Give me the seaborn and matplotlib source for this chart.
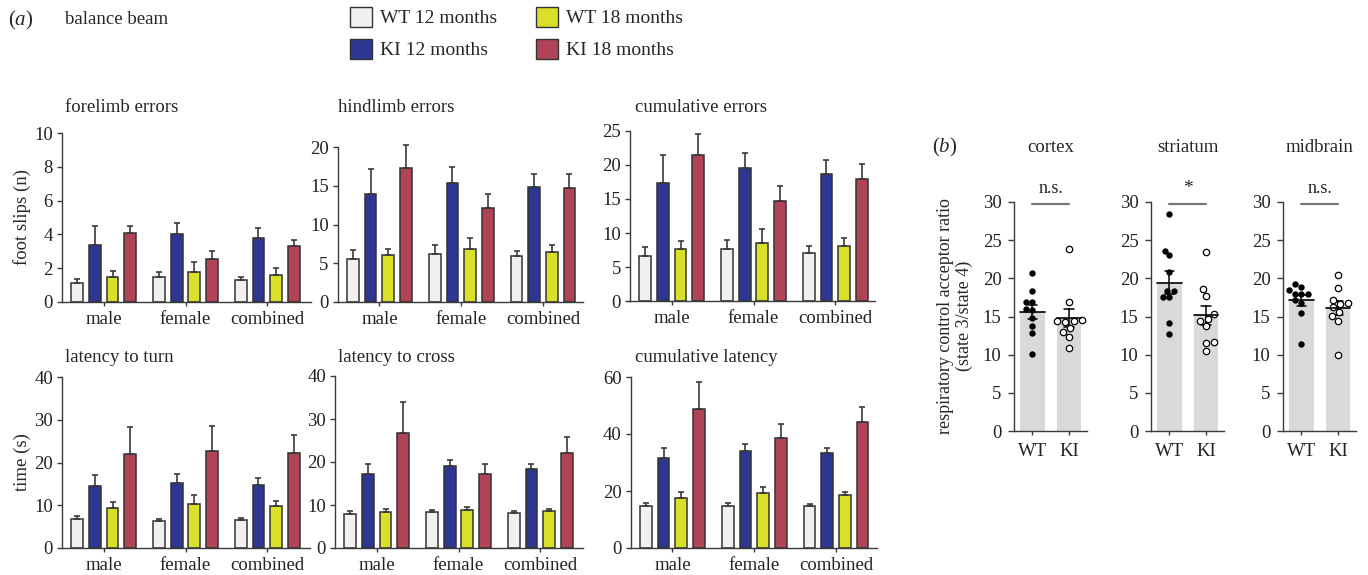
import numpy as np
import pandas as pd
import matplotlib
matplotlib.use("Agg")
import matplotlib.pyplot as plt
import seaborn as sns
from matplotlib.patches import Patch
from matplotlib.container import BarContainer

# ---------------- data ----------------
groups = ["male", "female", "combined"]
conditions = ["WT 12 months", "KI 12 months", "WT 18 months", "KI 18 months"]
cond_colors = ["#f0f0f0", "#2d3690", "#d8e027", "#b04456"]

# rows: conditions, cols: groups (male, female, combined)
forelimb_mean = [[1.1, 1.45, 1.3], [3.4, 4.05, 3.8], [1.45, 1.8, 1.6], [4.1, 2.55, 3.3]]
forelimb_sem = [[0.25, 0.3, 0.2], [1.1, 0.65, 0.6], [0.4, 0.55, 0.4], [0.4, 0.45, 0.35]]

hindlimb_mean = [[5.5, 6.2, 5.9], [14.0, 15.4, 14.9], [6.1, 6.8, 6.5], [17.3, 12.1, 14.7]]
hindlimb_sem = [[1.2, 1.1, 0.7], [3.1, 2.0, 1.6], [0.8, 1.5, 0.8], [3.0, 1.9, 1.8]]

cumerr_mean = [[6.6, 7.7, 7.1], [17.4, 19.5, 18.7], [7.6, 8.6, 8.1], [21.4, 14.7, 18.0]]
cumerr_sem = [[1.4, 1.3, 1.0], [4.1, 2.3, 2.1], [1.2, 2.0, 1.2], [3.1, 2.2, 2.1]]

turn_mean = [[6.8, 6.4, 6.6], [14.4, 15.2, 14.8], [9.3, 10.4, 9.9], [22.1, 22.6, 22.3]]
turn_sem = [[0.7, 0.5, 0.4], [2.6, 2.0, 1.6], [1.5, 2.1, 1.2], [6.2, 5.9, 4.2]]

cross_mean = [[8.0, 8.3, 8.1], [17.2, 19.0, 18.4], [8.3, 8.8, 8.5], [26.8, 17.3, 22.0]]
cross_sem = [[0.5, 0.6, 0.4], [2.3, 1.4, 1.2], [0.7, 0.8, 0.5], [7.2, 2.2, 3.8]]

cumlat_mean = [[14.8, 14.7, 14.8], [31.7, 34.2, 33.3], [17.6, 19.3, 18.5], [48.9, 38.6, 44.1]]
cumlat_sem = [[1.0, 1.0, 0.7], [3.3, 2.3, 1.9], [1.9, 2.1, 1.3], [9.3, 5.0, 5.4]]

genotypes = ["WT", "KI"]
cortex_wt = [20.7, 18.3, 16.9, 16.9, 16.0, 15.8, 14.8, 13.7, 12.8, 10.1]
cortex_ki = [23.8, 16.9, 14.5, 14.4, 14.4, 14.3, 13.5, 13.0, 12.3, 10.9]
striatum_wt = [28.4, 23.6, 23.0, 20.8, 18.4, 18.3, 17.6, 17.5, 14.2, 12.7]
striatum_ki = [23.5, 18.6, 17.7, 15.3, 14.7, 14.4, 13.7, 11.6, 11.5, 10.5]
midbrain_wt = [19.3, 18.9, 18.45, 18.0, 18.0, 18.0, 17.1, 16.8, 15.4, 11.4]
midbrain_ki = [20.5, 18.7, 17.2, 16.8, 16.7, 16.2, 15.6, 15.1, 14.4, 9.9]

# ---------------- style ----------------
sns.set_style("ticks")
plt.rcParams["font.family"] = ["Liberation Serif", "DejaVu Serif"]
plt.rcParams["mathtext.fontset"] = "custom"
plt.rcParams["mathtext.rm"] = "Liberation Serif"
plt.rcParams["mathtext.it"] = "Liberation Serif:italic"
FS = 13.5
SPINE = "#3a3a3a"

W, H = 1368, 575
fig = plt.figure(figsize=(W / 100, H / 100), dpi=100)


def rect(x0, y0, x1, y1):
    return [x0 / W, 1 - y1 / H, (x1 - x0) / W, (y1 - y0) / H]


def ftext(x, y, s, **kw):
    kw.setdefault("fontsize", FS)
    kw.setdefault("va", "center")
    fig.text(x / W, 1 - y / H, s, **kw)


def style_axes(ax):
    sns.despine(ax=ax)
    for s in ("left", "bottom"):
        ax.spines[s].set_color(SPINE)
        ax.spines[s].set_linewidth(1.0)
    ax.tick_params(axis="both", colors=SPINE, labelcolor="#222222", labelsize=FS,
                   width=1.0)
    ax.set_xlabel("")
    ax.set_ylabel("")


PX_PER_GROUP = 81.8


def bar_panel(box, mean, sem, ymax, ystep, title, title_xy):
    ax = fig.add_axes(rect(*box))
    df = pd.DataFrame([
        {"group": g, "condition": c, "value": mean[i][j]}
        for i, c in enumerate(conditions) for j, g in enumerate(groups)
    ])
    sns.barplot(data=df, x="group", y="value", hue="condition", order=groups,
                hue_order=conditions, palette=dict(zip(conditions, cond_colors)),
                saturation=1, width=0.863, gap=0.335, errorbar=None,
                edgecolor="#333333", linewidth=1.1, legend=False, ax=ax)
    bar_containers = [c for c in ax.containers if isinstance(c, BarContainer)]
    for i, cont in enumerate(bar_containers):
        bars = sorted(cont.patches, key=lambda p: p.get_x())
        xs = [b.get_x() + b.get_width() / 2 for b in bars]
        hs = [b.get_height() for b in bars]
        ax.errorbar(xs, hs, yerr=[np.zeros(len(hs)), sem[i]], fmt="none",
                    ecolor="#3a3a3a", elinewidth=1.2, capsize=2.0, capthick=1.2,
                    clip_on=False, zorder=1)
    width_px = box[2] - box[0]
    ax.set_xlim(-0.51, -0.51 + width_px / PX_PER_GROUP)
    ax.set_ylim(0, ymax)
    ax.set_yticks(np.arange(0, ymax + 0.001, ystep))
    style_axes(ax)
    ax.tick_params(axis="y", length=3.5, pad=3)
    ax.tick_params(axis="x", length=3, pad=3.5)
    ftext(title_xy[0], title_xy[1], title, ha="left")
    return ax


bar_panel((62, 133, 311, 302), forelimb_mean, forelimb_sem, 10, 2,
          "forelimb errors", (65, 108))
bar_panel((337.7, 147, 583, 302), hindlimb_mean, hindlimb_sem, 20, 5,
          "hindlimb errors", (338, 107))
bar_panel((630, 131, 875, 301), cumerr_mean, cumerr_sem, 25, 5,
          "cumulative errors", (635, 107))
bar_panel((62, 377, 310, 548), turn_mean, turn_sem, 40, 10,
          "latency to turn", (65, 358))
bar_panel((335, 376, 583, 548), cross_mean, cross_sem, 40, 10,
          "latency to cross", (338, 358))
bar_panel((630.7, 377, 877, 548), cumlat_mean, cumlat_sem, 60, 20,
          "cumulative latency", (635, 358))

ftext(22, 217, "foot slips (n)", rotation=90, ha="center")
ftext(22, 462, "time (s)", rotation=90, ha="center")

ftext(8, 20, r"$(a)$", ha="left", fontsize=15)
ftext(65, 19, "balance beam", ha="left")

handles = [Patch(facecolor=c, edgecolor="#333333", linewidth=1.0) for c in cond_colors]
fig.legend(handles, conditions, loc="upper left",
           bbox_to_anchor=(350 / W, 1 - 7 / H), ncol=2, frameon=False,
           fontsize=14, handlelength=1.13, handleheight=1.19, handletextpad=0.42,
           labelspacing=0.58, columnspacing=2.0, borderpad=0, borderaxespad=0)


# ---------------- panel b ----------------
def resp_panel(left, wt, ki, title, sig):
    ax = fig.add_axes(rect(left, 202, left + 73, 431))
    df = pd.DataFrame({"genotype": ["WT"] * len(wt) + ["KI"] * len(ki),
                       "ratio": wt + ki})
    sns.barplot(data=df, x="genotype", y="ratio", order=genotypes,
                color="#d9d9d9", saturation=1, width=0.68, errorbar="se",
                capsize=0.25, err_kws={"color": "black", "linewidth": 1.1},
                linewidth=0, ax=ax)
    for p in ax.patches:
        ax.plot([p.get_x(), p.get_x() + p.get_width()], [p.get_height()] * 2,
                color="black", lw=1.2, zorder=4)
    sns.swarmplot(data=df[df.genotype == "WT"], x="genotype", y="ratio",
                  order=genotypes, color="black", size=4.6, ax=ax, zorder=3)
    sns.swarmplot(data=df[df.genotype == "KI"], x="genotype", y="ratio",
                  order=genotypes, color="white", edgecolor="black",
                  linewidth=0.9, size=4.6, ax=ax, zorder=3)
    ax.set_xlim(-0.5, 1.49)
    ax.set_ylim(0, 30)
    ax.set_yticks(np.arange(0, 31, 5))
    style_axes(ax)
    ax.tick_params(axis="y", length=4, pad=5)
    ax.tick_params(axis="x", length=3, pad=6)
    ax.plot([0, 1], [29.8, 29.8], color="#777777", lw=1.6, clip_on=False)
    ax.text(0.5, 30.6, sig, ha="center", va="bottom", fontsize=13 if sig != "*" else 14,
            color="#222222")
    cx = left + 0.5 / 1.99 * 73 + 18.3
    ftext(cx, 147, title, ha="center")
    return ax


resp_panel(1014, cortex_wt, cortex_ki, "cortex", "n.s.")
resp_panel(1151, striatum_wt, striatum_ki, "striatum", "*")
resp_panel(1283, midbrain_wt, midbrain_ki, "midbrain", "n.s.")

ftext(932, 147, r"$(b)$", ha="left", fontsize=15)
ftext(955, 316, "respiratory control acceptor ratio\n(state 3/state 4)",
      rotation=90, ha="center", fontsize=13, multialignment="center")

fig.savefig("out.png", dpi=100)
